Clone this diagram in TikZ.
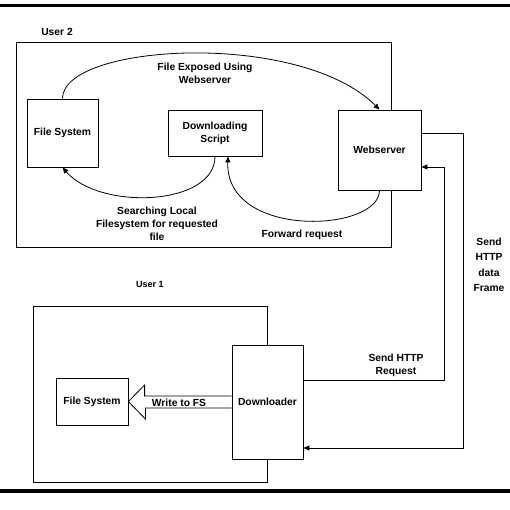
\documentclass[tikz,border=0pt]{standalone}
\usepackage{fontspec}
\setmainfont{Liberation Sans}
\usetikzlibrary{arrows.meta}
\begin{document}
\begin{tikzpicture}[x=1pt, y=-1pt,
        box/.style={rectangle, draw, fill=white, line width=0.8pt, inner sep=0pt, align=center},
        userframe/.style={rectangle, draw, line width=0.8pt, inner sep=0pt},
        txt/.style={align=center},
        arrow/.style={-{Triangle[length=6pt,width=5pt]}, line width=0.8pt},
        every node/.style={font=\bfseries\fontsize{10.3}{13}\selectfont}
    ]
        \useasboundingbox (0,0) rectangle (510,510);
        % Rules
        \draw[line width=3pt] (0,5.3) -- (510,5.3);
        \draw[line width=4pt] (0,490.5) -- (510,490.5);

        % User 2
        \node[txt] (u2lbl) at (57,32) {User 2};
        \node[userframe, minimum width=375pt, minimum height=205pt] (usr2) at (203.5,144.5) {};
        \node[box, minimum width=71pt, minimum height=68pt] (fs2) at (62.5,133) {File System};
        \node[box, minimum width=94pt, minimum height=46pt] (ds) at (215,133) {Downloading\\Script};
        \node[box, minimum width=83pt, minimum height=80pt] (ws) at (379.5,150) {Webserver};

        \draw[arrow] (fs2.north) .. controls +(0,-55) and +(-80,-80) .. (ws.north);
        \draw[arrow] (ds.south) .. controls +(0,50) and +(37,43) .. (fs2.south);
        \draw[arrow] (ws.south) .. controls +(0,42) and +(-3,83) .. ([xshift=13pt]ds.south);

        \node[txt] (expose) at (205,73) {File Exposed Using\\Webserver};
        \node[txt] (search) at (157,224) {Searching Local\\Filesystem for requested\\file};
        \node[txt] (fwd) at (302,235) {Forward request};

        % User 1
        \node[txt, font=\bfseries\fontsize{9}{11}\selectfont] (u1lbl) at (150,284) {User 1};
        \node[userframe, minimum width=234pt, minimum height=176pt] (usr1) at (150,394) {};
        \node[box, minimum width=71pt, minimum height=114pt] (dl) at (267.5,402) {Downloader};
        \node[box, minimum width=72pt, minimum height=47pt] (fs1) at (92,401.5) {File System};

        \draw[line width=0.8pt, fill=white] ([yshift=6pt]dl.west) -- ++(-87,0) -- ++(0,-11)
            -- (fs1.east) -- ++(17,17.5) -- ++(0,-11) -- ([yshift=-6pt]dl.west);
        \node[txt] (write) at (179,402.5) {Write to FS};

        % HTTP traffic
        \draw[arrow] ([yshift=22pt]dl.east) -- ++(141,0) |- ([yshift=-17pt]ws.east);
        \draw[arrow] ([yshift=17pt]ws.east) -- ++(42,0) |- ([yshift=-46pt]dl.east);

        \node[txt] (req) at (396,365) {Send HTTP\\Request};
        \node[txt, font=\bfseries\fontsize{10.3}{15.5}\selectfont] (frame) at (489,265) {Send\\HTTP\\data\\Frame};
    \end{tikzpicture}
\end{document}
